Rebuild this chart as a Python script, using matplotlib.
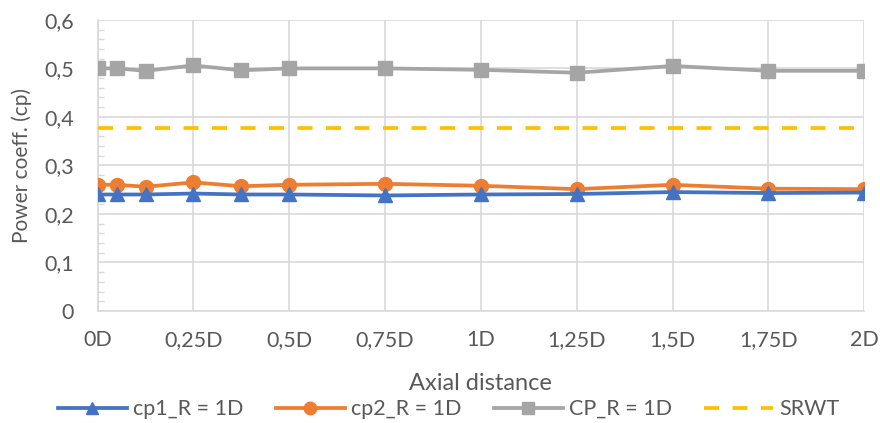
import matplotlib.pyplot as plt
from matplotlib.ticker import FuncFormatter, MultipleLocator

# axial positions (in rotor diameters) and power coefficients
x_pos = [0, 0.05, 0.125, 0.25, 0.375, 0.5, 0.75, 1, 1.25, 1.5, 1.75, 2]
cp1 = [0.240, 0.240, 0.240, 0.242, 0.240, 0.240, 0.238, 0.240, 0.241, 0.245, 0.243, 0.244]
cp2 = [0.260, 0.260, 0.256, 0.265, 0.257, 0.260, 0.262, 0.258, 0.251, 0.260, 0.252, 0.251]
cp_total = [0.500, 0.500, 0.495, 0.506, 0.496, 0.500, 0.500, 0.497, 0.491, 0.505, 0.495, 0.495]
srwt = 0.378
x_ticks = [0, 0.25, 0.5, 0.75, 1, 1.25, 1.5, 1.75, 2]

plt.rcParams['font.family'] = ['Lato', 'DejaVu Sans']

fig = plt.figure(figsize=(8.8, 4.23), dpi=100)
ax = fig.add_axes([0.111, 0.265, 0.871, 0.688])

ax.plot(x_pos, cp1, color='#4472C4', lw=2.7, marker='^', ms=9.5, label='cp1_R = 1D', zorder=4)
ax.plot(x_pos, cp2, color='#ED7D31', lw=2.7, marker='o', ms=10, label='cp2_R = 1D', zorder=3)
ax.plot(x_pos, cp_total, color='#A5A5A5', lw=2.7, marker='s', ms=10, label='CP_R = 1D', zorder=3)
ax.plot([0, 2], [srwt, srwt], color='#FFC000', lw=2.7, dashes=(4, 3.6), label='SRWT', zorder=3)

ax.set_xlim(0, 2)
ax.set_ylim(0, 0.6)
ax.set_xticks(x_ticks)
ax.xaxis.set_major_formatter(FuncFormatter(lambda v, p: ('%g' % v).replace('.', ',') + 'D'))
ax.yaxis.set_major_locator(MultipleLocator(0.1))
ax.yaxis.set_minor_locator(MultipleLocator(0.02))
ax.yaxis.set_major_formatter(FuncFormatter(lambda v, p: '0' if v == 0 else ('%.1f' % v).replace('.', ',')))

ax.grid(True, which='major', color='#D9D9D9', lw=1.2)
ax.set_axisbelow(True)
for s in ['top', 'right']:
    ax.spines[s].set_visible(False)
for s in ['left', 'bottom']:
    ax.spines[s].set_color('#D9D9D9')
    ax.spines[s].set_linewidth(1.2)

ax.tick_params(axis='both', which='major', length=0, labelsize=15.5, colors='#595959')
ax.tick_params(axis='x', pad=14)
ax.tick_params(axis='y', pad=17)
ax.tick_params(axis='y', which='minor', direction='in', length=4, color='#D9D9D9', width=1)

ax.set_xlabel('Axial distance', fontsize=17, color='#595959', labelpad=16)
ax.set_ylabel('Power coeff. (cp)', fontsize=15, color='#595959', labelpad=9)

ax.legend(loc='center', bbox_to_anchor=(0.51, 0.033), bbox_transform=fig.transFigure,
          ncol=4, frameon=False, fontsize=15.5, labelcolor='#595959',
          handlelength=3.2, columnspacing=1.5, handletextpad=0.3, markerscale=0.9)

fig.savefig('out.png', dpi=100)
